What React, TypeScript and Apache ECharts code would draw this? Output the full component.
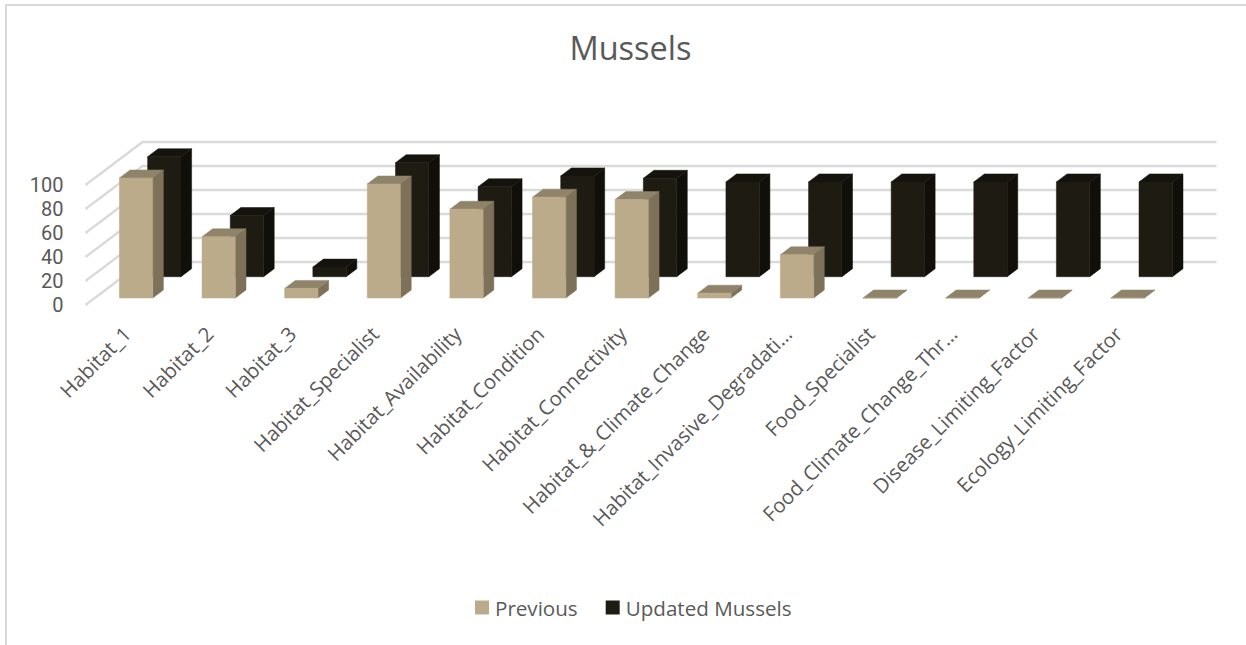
import React, { useEffect, useRef } from "react";
import * as echarts from "echarts";

const categories = [
  "Habitat_1",
  "Habitat_2",
  "Habitat_3",
  "Habitat_Specialist",
  "Habitat_Availability",
  "Habitat_Condition",
  "Habitat_Connectivity",
  "Habitat_&_Climate_Change",
  "Habitat_Invasive_Degradati…",
  "Food_Specialist",
  "Food_Climate_Change_Thr…",
  "Disease_Limiting_Factor",
  "Ecology_Limiting_Factor",
];
const previousValues = [100, 51, 8, 95, 74, 84, 82, 4, 36, 0, 0, 0, 0];
const updatedValues = [100, 51, 8, 95, 75, 84, 82, 79, 79, 79, 79, 79, 79];
const axisTicks = [0, 20, 40, 60, 80, 100];

// Oblique projection of the floor depth: one full depth unit moves a point by this many pixels.
const DEPTH_DX = 57;
const DEPTH_DY = -43;
const BAR_WIDTH_RATIO = 0.404;
const GRAY = "#595959";
const FONT = "'Open Sans', 'Noto Sans', sans-serif";

type Faces = { front: string; side: string; top: string };

const project = (p: number[], depth: number) => [p[0] + depth * DEPTH_DX, p[1] + depth * DEPTH_DY];

// Draws one box with its front, right side and top faces.
const boxRenderer = (depthFront: number, depthBack: number, faces: Faces) => (_: any, api: any) => {
  const cat = api.value(0);
  const val = api.value(1);
  const half = (api.size([1, 0])[0] * BAR_WIDTH_RATIO) / 2;
  const base = api.coord([cat, 0]);
  const head = api.coord([cat, val]);
  const lb = [base[0] - half, base[1]];
  const rb = [base[0] + half, base[1]];
  const lt = [head[0] - half, head[1]];
  const rt = [head[0] + half, head[1]];
  const poly = (points: number[][], fill: string) => ({
    type: "polygon",
    shape: { points },
    style: { fill, stroke: fill, lineWidth: 0.5 },
  });
  return {
    type: "group",
    children: [
      poly(
        [project(rb, depthFront), project(rb, depthBack), project(rt, depthBack), project(rt, depthFront)],
        faces.side,
      ),
      poly(
        [project(lt, depthFront), project(rt, depthFront), project(rt, depthBack), project(lt, depthBack)],
        faces.top,
      ),
      poly(
        [project(lb, depthFront), project(rb, depthFront), project(rt, depthFront), project(lt, depthFront)],
        faces.front,
      ),
    ],
  };
};

// Side-wall diagonal plus back-wall rule for one value of the axis.
const wallRenderer = (params: any, api: any) => {
  const y = api.coord([0, api.value(0)])[1];
  const x0 = params.coordSys.x;
  const x1 = x0 + params.coordSys.width;
  return {
    type: "polyline",
    shape: {
      points: [
        [x0, y],
        project([x0, y], 1),
        project([x1, y], 1),
      ],
    },
    style: { fill: "none", stroke: "#DADADA", lineWidth: 2.4 },
  };
};

const option = {
  animation: false,
  backgroundColor: "#FFFFFF",
  textStyle: { fontFamily: FONT },
  title: {
    text: "Mussels",
    left: 625.5,
    top: 26,
    textAlign: "center",
    textStyle: { color: GRAY, fontSize: 32.5, fontWeight: "normal", fontFamily: FONT },
  },
  legend: {
    left: 470,
    top: 592,
    itemWidth: 14,
    itemHeight: 14,
    itemGap: 28,
    icon: "rect",
    textStyle: { color: GRAY, fontSize: 20.6, fontFamily: FONT, padding: [0, 0, 0, 1] },
    data: ["Previous", "Updated Mussels"],
  },
  grid: { left: 85.5, top: 185, width: 1074, height: 120 },
  xAxis: {
    type: "category",
    data: categories,
    boundaryGap: true,
    axisLine: { show: false },
    axisTick: { show: false },
    axisLabel: {
      interval: 0,
      rotate: 45,
      margin: 25,
      color: GRAY,
      fontSize: 20.3,
      fontFamily: FONT,
    },
  },
  yAxis: {
    type: "value",
    min: 0,
    max: 100,
    interval: 20,
    axisLine: { show: false },
    axisTick: { show: false },
    splitLine: { show: false },
    axisLabel: { margin: 22, color: GRAY, fontSize: 20, fontFamily: "Roboto, 'Open Sans', sans-serif" },
  },
  graphic: [
    {
      type: "polyline",
      shape: { points: [[6, 645], [6, 5], [1246, 5]] },
      style: { fill: "none", stroke: "#D9D9D9", lineWidth: 2 },
    },
  ],
  series: [
    {
      type: "custom",
      name: "wall",
      silent: true,
      z: 1,
      data: axisTicks.map((t) => [t]),
      encode: { y: 0 },
      renderItem: wallRenderer,
    },
    {
      type: "custom",
      name: "Updated Mussels",
      z: 2,
      itemStyle: { color: "#1E1B12" },
      data: updatedValues.map((v, i) => [i, v]),
      encode: { x: 0, y: 1 },
      renderItem: boxRenderer(0.658, 0.844, { front: "#1E1B12", side: "#100F09", top: "#14130D" }),
    },
    {
      type: "custom",
      name: "Previous",
      z: 3,
      itemStyle: { color: "#BBAB8A" },
      data: previousValues.map((v, i) => [i, v]),
      encode: { x: 0, y: 1 },
      renderItem: boxRenderer(0.163, 0.349, { front: "#BBAB8A", side: "#7D7259", top: "#8F846A" }),
    },
  ],
};

export default function App() {
  const ref = useRef<HTMLDivElement>(null);
  useEffect(() => {
    const chart = echarts.init(ref.current!, undefined, { renderer: "svg" });
    chart.setOption(option as any);
    return () => chart.dispose();
  }, []);
  return <div ref={ref} style={{ position: "fixed", left: 0, top: 0, width: 1246, height: 645 }} />;
}
